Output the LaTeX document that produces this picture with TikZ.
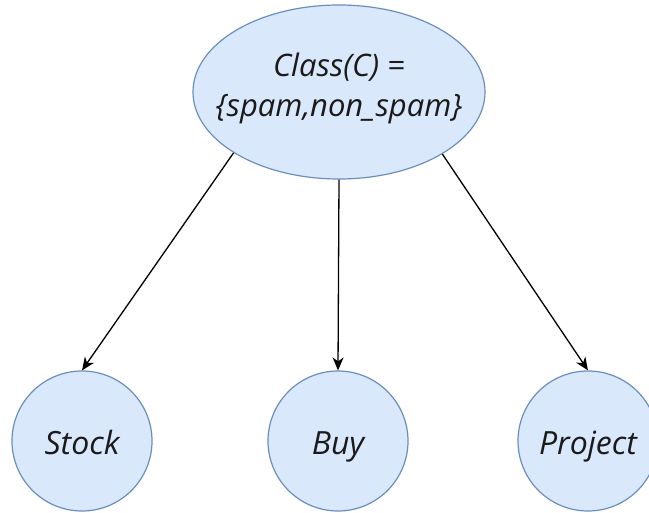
\documentclass[tikz,border=0pt]{standalone}
\usepackage{fontspec}
\setmainfont{Open Sans}
\usetikzlibrary{arrows.meta,shapes.geometric}
\definecolor{nodefill}{HTML}{DAE8FC}
\definecolor{nodeline}{HTML}{6C8EBF}
\definecolor{ink}{HTML}{1A1A1A}
\begin{document}
\begin{tikzpicture}[x=1pt,y=-1pt,
  bubble/.style={draw=nodeline,fill=nodefill,line width=1.2pt,circle,
    minimum size=140pt,inner sep=0pt,text=ink,text height=28pt,text depth=0pt,
    font=\fontsize{32}{38}\selectfont\itshape},
  root/.style={draw=nodeline,fill=nodefill,line width=1.2pt,ellipse,
    minimum width=292pt,minimum height=174pt,inner sep=0pt},
  rootlabel/.style={text=ink,align=center,inner sep=0pt,
    font=\fontsize{31}{40}\selectfont\itshape},
  link/.style={draw=black,line width=1.3pt,-{Stealth[length=13pt,width=11pt,inset=4pt]}}]
\useasboundingbox (0,0) rectangle (649,513);
% root class node: the ellipse and its two-line caption
\node[root] (cls) at (339,92) {};
\node[rootlabel] (clstext) at ([yshift=4pt]cls.center) {Class(C) =\\\{spam,non\_spam\}};
% feature nodes
\node[bubble] (stock) at (82,441) {Stock};
\node[bubble] (buy) at (338,441) {Buy};
\node[bubble] (proj) at (588,441) {Project};
% edges from the class to each feature
\draw[link] (cls.210.4) -- (stock.north);
\draw[link] (cls.south) -- (buy.north);
\draw[link] (cls.329.4) -- (proj.north);
\end{tikzpicture}
\end{document}
